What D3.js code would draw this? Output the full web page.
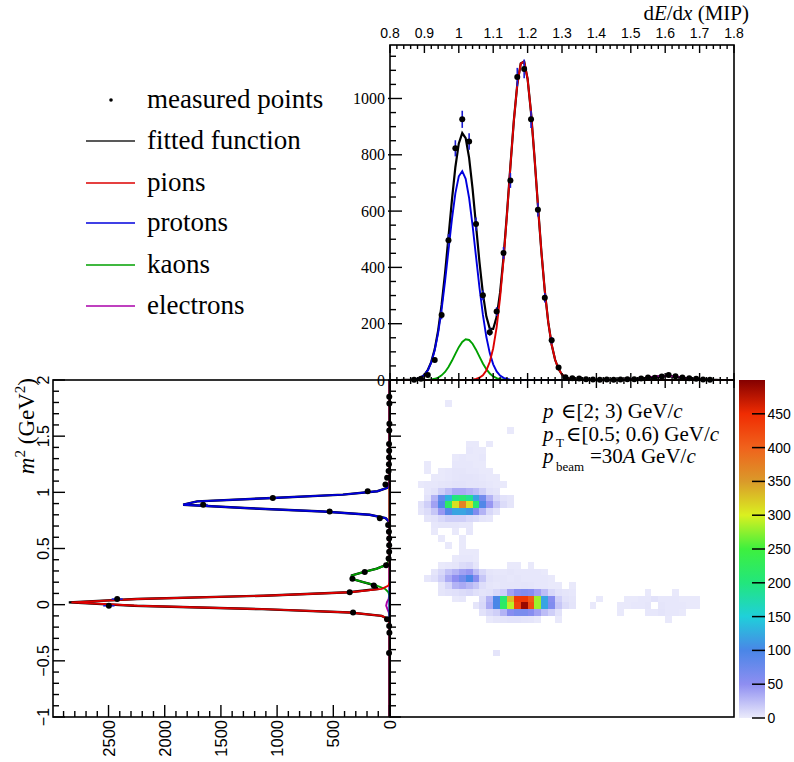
<!DOCTYPE html>
<html><head><meta charset="utf-8">
<script src="https://cdn.jsdelivr.net/npm/d3@7"></script>
<style>
body{margin:0;background:#fff}svg{display:block}
.serif{font-family:"Liberation Serif","DejaVu Serif","Noto Serif",serif}
.sans{font-family:"Liberation Sans","DejaVu Sans",Arial,sans-serif}
</style>
</head><body>
<svg id="c" width="794" height="762"></svg>
<script>
// ---------------- data ----------------
// dE/dx projection (bin centres, counts)
const dedxPointX = [0.87,0.89,0.91,0.93,0.95,0.97,0.99,1.01,1.03,1.05,1.07,1.09,1.11,1.13,1.15,1.17,1.19,1.21,1.23,1.25,1.27,1.29,1.31,1.33,1.35,1.37,1.39,1.41,1.43,1.45,1.47,1.49,1.51,1.53,1.55,1.57,1.59,1.61,1.63,1.65,1.67,1.69,1.71,1.73];
const dedxPointY = [1,4,18,71,231,496,823,926,847,554,301,170,243,451,709,1076,1105,926,605,292,141,44,10,6,5,3,2,1,2,1,2,3,3,5,9,8,12,18,13,9,6,4,2,1];
// m^2 projection (bin centres, counts)
const m2PointX = [-0.43,-0.25,-0.19,-0.13,-0.07,-0.01,0.05,0.11,0.17,0.23,0.29,0.35,0.41,0.47,0.53,0.59,0.65,0.71,0.77,0.83,0.89,0.95,1.01,1.07,1.13,1.19,1.25,1.31,1.37,1.43,1.55,1.61,1.79,1.85];
const m2PointY = [4,1,3,22,324,2497,2423,354,140,330,220,30,8,3,3,3,5,12,86,533,1658,1038,194,36,21,8,5,4,3,4,2,1,1,2];
// fit components: pions, protons, kaons, electrons
const speciesNames = ["pions","protons","kaons","electrons"];
const dedxFitAmp   = [1137, 742, 145, 14];
const dedxFitMean  = [1.186, 1.009, 1.023, 1.60];
const dedxFitSigma = [0.040, 0.040, 0.035, 0.05];
const m2FitAmp   = [2830, 1880, 350, 30];
const m2FitMean  = [0.020, 0.900, 0.245, -0.005];
const m2FitSigma = [0.044, 0.046, 0.050, 0.035];
// 2D histogram rows: [m2 bin centre, first dE/dx bin centre, counts...]
const hist2dRows = [
 [1.79,0.97,[1]],
 [1.55,1.15,[1]],
 [1.43,1.03,[1,1,0,1]],
 [1.37,1.03,[2,1,1]],
 [1.31,0.99,[1,2,1,1,2]],
 [1.25,0.91,[1,0,0,0,2,2,2,1,1]],
 [1.19,0.91,[1,0,1,2,3,3,2,2,1,1]],
 [1.13,0.93,[1,1,2,3,4,4,3,2,1,1]],
 [1.07,0.89,[1,2,2,3,4,5,5,4,4,3,2,1,1]],
 [1.01,0.91,[2,5,15,25,35,35,30,25,15,5,3]],
 [0.95,0.91,[5,30,80,130,200,210,190,120,70,30,10,5,3]],
 [0.89,0.89,[5,15,40,95,220,310,370,310,210,95,45,20,8,3]],
 [0.83,0.89,[3,8,20,45,90,120,120,110,60,30,10,4]],
 [0.77,0.91,[3,5,10,15,15,15,10,8,3,2]],
 [0.71,0.93,[2,3,3,3,2,2]],
 [0.65,0.93,[1,0,0,1,0,2]],
 [0.59,0.95,[1,0,0,1]],
 [0.53,0.97,[1,0,1]],
 [0.47,1.01,[1,1,1]],
 [0.41,0.99,[1,2,2,1]],
 [0.35,0.95,[1,2,3,8,10,3]],
 [0.35,1.15,[1,1,0,1]],
 [0.29,0.93,[3,10,22,30,40,45,25,10,3,2,2,3,2,2,2,2,1]],
 [0.23,0.91,[2,6,15,35,50,70,100,55,20,5,3,3,2,3,2,2,2,2,1]],
 [0.17,0.95,[3,12,30,35,28,20,7,3,2,3,3,3,4,3,2,2,1,1,0,1]],
 [0.11,0.95,[3,5,6,8,10,6,4,5,10,15,40,55,60,55,40,25,10,5,3,2]],
 [0.11,1.55,[1,0,0,0,1]],
 [0.05,0.99,[1,2]],
 [0.05,1.07,[8,30,100,210,330,440,440,410,280,120,55,15,5,3]],
 [0.05,1.41,[1]],
 [0.05,1.49,[1,1,2,2,5,2,2,2,1,1,1]],
 [-0.01,1.05,[3,10,35,100,220,290,430,490,420,280,120,60,20,8,4]],
 [-0.01,1.39,[1]],
 [-0.01,1.47,[1,1,2,2,3,0,3,2,2,2,1,1]],
 [-0.07,1.07,[5,10,15,30,55,65,65,55,40,25,15,5]],
 [-0.07,1.47,[1]],
 [-0.07,1.55,[2,2,4,2,2,1]],
 [-0.13,1.09,[1,3,4,5,5,4,3,1,0,0,1]],
 [-0.13,1.61,[1]],
 [-0.43,1.11,[4]]
];
const dedxBinWidth = 0.02, m2BinWidth = 0.06;
// colour palette
const paletteStops  = [0,50,100,150,200,250,300,350,400,450,500];
const paletteColors = ["#ebebfb","#8e8ef1","#4a86e7","#1fd0da","#22e67c","#3ef03e","#daf020","#da9a2a","#f0621c","#f02c02","#840000"];
const colorbarTicks = [0,50,100,150,200,250,300,350,400,450];
// text
const legendLabels = ["measured points","fitted function","pions","protons","kaons","electrons"];

// ---------------- drawing ----------------
const svg = d3.select("#c");
const speciesColors = ["#dd0000","#0000dd","#00a000","#aa00aa"];
const errColor = "#1a1ad0";

const xE = d3.scaleLinear().domain([0.8,1.8]).range([390,734]);
const yC = d3.scaleLinear().domain([0,1190]).range([380,45]);
const yM = d3.scaleLinear().domain([-1,2]).range([717,380]);
const xL = d3.scaleLinear().domain([0,2994]).range([389.5,53]);
const yZ = d3.scaleLinear().domain([0,500]).range([718,380]);
const zCol = d3.scaleLinear().domain(paletteStops).range(paletteColors).clamp(true);

const gauss = (x,a,m,s)=>a*Math.exp(-0.5*((x-m)/s)*((x-m)/s));

// ---- 2D histogram ----
const gH = svg.append("g").attr("shape-rendering","crispEdges");
hist2dRows.forEach(([m2c, x0c, counts])=>{
  counts.forEach((v,k)=>{
    if(v<=0) return;
    const xc = x0c + k*dedxBinWidth;
    const xa = Math.round(xE(xc-dedxBinWidth/2)), xb = Math.round(xE(xc+dedxBinWidth/2));
    const ya = Math.round(yM(m2c+m2BinWidth/2)), yb = Math.round(yM(m2c-m2BinWidth/2));
    gH.append("rect").attr("x",xa).attr("y",ya).attr("width",xb-xa).attr("height",yb-ya).attr("fill",zCol(v));
  });
});

// ---- colour bar ----
const defs = svg.append("defs");
const grad = defs.append("linearGradient").attr("id","pal").attr("x1",0).attr("y1",1).attr("x2",0).attr("y2",0);
paletteStops.forEach((s,i)=>grad.append("stop").attr("offset",s/500).attr("stop-color",paletteColors[i]));
svg.append("rect").attr("x",739).attr("y",yZ(500)).attr("width",26).attr("height",yZ(0)-yZ(500)).attr("fill","url(#pal)");
const gZ = svg.append("g");
colorbarTicks.forEach(t=>{
  gZ.append("line").attr("x1",752).attr("x2",765).attr("y1",yZ(t)).attr("y2",yZ(t)).attr("stroke","#000").attr("stroke-width",1.5);
  gZ.append("text").attr("class","sans").attr("x",767.5).attr("y",yZ(t)+5).attr("font-size",14).text(t);
});

// ---- top panel: curves ----
const gT = svg.append("g");
const xsT = d3.range(0,101).map(i=>0.8+i*0.01);
const totT = xsT.map(x=>({x, y:d3.sum(dedxFitAmp.map((a,k)=>gauss(x,a,dedxFitMean[k],dedxFitSigma[k])))}));
const lineT = d3.line().x(d=>xE(d.x)).y(d=>yC(d.y));
gT.append("path").attr("d",lineT(totT)).attr("fill","none").attr("stroke","#000").attr("stroke-width",2.2);
[3,2,1,0].forEach(k=>{
  const pts = xsT.map(x=>({x,y:gauss(x,dedxFitAmp[k],dedxFitMean[k],dedxFitSigma[k])}));
  gT.append("path").attr("d",lineT(pts)).attr("fill","none").attr("stroke",speciesColors[k]).attr("stroke-width",1.9);
});
dedxPointX.forEach((x,i)=>{
  const v = dedxPointY[i], e = Math.sqrt(v);
  gT.append("line").attr("x1",xE(x)).attr("x2",xE(x)).attr("y1",yC(v+e)).attr("y2",yC(Math.max(0,v-e))).attr("stroke",errColor).attr("stroke-width",1.6);
});
dedxPointX.forEach((x,i)=>{
  gT.append("circle").attr("cx",xE(x)).attr("cy",yC(dedxPointY[i])).attr("r",3).attr("fill","#000");
});

// ---- left panel: curves ----
const gL = svg.append("g");
const msL = d3.range(0,101).map(i=>-1+i*0.03);
const lineL = d3.line().x(d=>xL(d.v)).y(d=>yM(d.m));
const totL = msL.map(m=>({m, v:d3.sum(m2FitAmp.map((a,k)=>gauss(m,a,m2FitMean[k],m2FitSigma[k])))}));
[3].forEach(k=>{
  const pts = msL.map(m=>({m,v:gauss(m,m2FitAmp[k],m2FitMean[k],m2FitSigma[k])}));
  gL.append("path").attr("d",lineL(pts)).attr("fill","none").attr("stroke",speciesColors[k]).attr("stroke-width",1.9);
});
gL.append("path").attr("d",lineL(totL)).attr("fill","none").attr("stroke","#000").attr("stroke-width",2.4);
[2,1,0].forEach(k=>{
  const pts = msL.map(m=>({m,v:gauss(m,m2FitAmp[k],m2FitMean[k],m2FitSigma[k])}));
  gL.append("path").attr("d",lineL(pts)).attr("fill","none").attr("stroke",speciesColors[k]).attr("stroke-width",1.9);
});
m2PointX.forEach((m,i)=>{
  const v = m2PointY[i], e = Math.sqrt(v);
  gL.append("line").attr("y1",yM(m)).attr("y2",yM(m)).attr("x1",xL(v+e)).attr("x2",xL(Math.max(0,v-e))).attr("stroke",errColor).attr("stroke-width",1.6);
});
m2PointX.forEach((m,i)=>{
  gL.append("circle").attr("cx",xL(m2PointY[i])).attr("cy",yM(m)).attr("r",3).attr("fill","#000");
});

// ---- frames ----
const frame = (x0,y0,x1,y1)=>svg.append("rect").attr("x",x0).attr("y",y0).attr("width",x1-x0).attr("height",y1-y0).attr("fill","none").attr("stroke","#000").attr("stroke-width",1.6);
frame(390,45,734,380);
frame(53,380,390,717);
frame(390,380,734,717);

// ---- ticks ----
const gA = svg.append("g").attr("stroke","#000").attr("stroke-width",1.4);
const tl = (x1,y1,x2,y2)=>gA.append("line").attr("x1",x1).attr("y1",y1).attr("x2",x2).attr("y2",y2);
const dedxMajor = xE.ticks(10), dedxMinor = xE.ticks(50);
dedxMinor.forEach(v=>{ const x=xE(v); const maj = dedxMajor.some(t=>Math.abs(t-v)<1e-9);
  tl(x,45,x,45+(maj?8:4));
  tl(x,380-(maj?7:3),x,380+(maj?8:4));
});
const cMajor = d3.range(0,1190,200), cMinor = d3.range(0,1190,50);
cMinor.forEach(v=>{ const y=yC(v); const maj = v%200===0;
  tl(maj?388:390,y,390+(maj?12:6),y);
});
const mMajor = yM.ticks(6), mMinor = d3.range(-10,21).map(i=>i/10);
mMinor.forEach(v=>{ const y=yM(v); const maj = Math.abs(v*2-Math.round(v*2))<1e-9;
  tl(53,y,53+(maj?12:6),y);
  tl(390,y,390+(maj?11:6),y);
});
const lMajor = d3.range(0,2994,500), lMinor = d3.range(0,2994,100);
lMinor.forEach(v=>{ const x=xL(v); const maj=v%500===0;
  tl(x,717,x,717-(maj?12:6));
});

// ---- tick labels ----
const gTx = svg.append("g");
dedxMajor.forEach(v=>gTx.append("text").attr("class","sans").attr("x",xE(v)).attr("y",37.5).attr("text-anchor","middle")
  .attr("font-size",14).text(d3.format("")(+v.toFixed(1))));
cMajor.forEach(v=>gTx.append("text").attr("class","serif").attr("x",385).attr("y",yC(v)+5.5).attr("text-anchor","end")
  .attr("font-size",16).text(v));
const fmtM = d3.format("");
mMajor.forEach(v=>gTx.append("text").attr("class","sans").attr("transform",`translate(48.5,${yM(v)}) rotate(-90)`).attr("text-anchor","middle")
  .attr("font-size",16).text(fmtM(v)));
lMajor.forEach(v=>gTx.append("text").attr("class","sans").attr("transform",`translate(${xL(v)+6},720) rotate(-90)`).attr("text-anchor","end")
  .attr("font-size",16.5).text(v));

// ---- axis titles ----
const tt = svg.append("text").attr("class","serif").attr("x",749).attr("y",20).attr("text-anchor","end").attr("font-size",21);
tt.append("tspan").text("d");
tt.append("tspan").attr("font-style","italic").text("E");
tt.append("tspan").text("/d");
tt.append("tspan").attr("font-style","italic").text("x");
tt.append("tspan").text(" (MIP)");

const ty = svg.append("text").attr("class","serif").attr("transform","translate(34,378) rotate(-90)").attr("text-anchor","end").attr("font-size",23);
ty.append("tspan").attr("font-style","italic").text("m");
ty.append("tspan").attr("font-size",15).attr("dy",-9).text("2");
ty.append("tspan").attr("dy",9).text(" (GeV");
ty.append("tspan").attr("font-size",15).attr("dy",-9).text("2");
ty.append("tspan").attr("dy",9).text(")");

// ---- legend ----
const gLeg = svg.append("g");
const legY = [100,141,183,223,265,306];
legendLabels.forEach((lab,i)=>{
  const y = legY[i];
  if(i===0) gLeg.append("circle").attr("cx",111).attr("cy",y).attr("r",1.8).attr("fill","#000");
  else gLeg.append("line").attr("x1",86).attr("x2",135).attr("y1",y).attr("y2",y)
        .attr("stroke", i===1 ? "#222" : speciesColors[i-2]).attr("stroke-width",1.3);
  gLeg.append("text").attr("class","serif").attr("x",147).attr("y",y+8.3).attr("font-size",27).text(lab);
});

// ---- text box (one text element per line) ----
const gB = svg.append("g").attr("class","serif").attr("font-size",21);
const l1 = gB.append("text").attr("x",543).attr("y",418);
l1.append("tspan").attr("font-style","italic").text("p");
l1.append("tspan").attr("x",561).text("\u2208[2; 3) GeV/");
l1.append("tspan").attr("font-style","italic").text("c");
const l2 = gB.append("text").attr("x",543).attr("y",441);
l2.append("tspan").attr("font-style","italic").text("p");
l2.append("tspan").attr("x",556).attr("dy",6).attr("font-size",13).text("T");
l2.append("tspan").attr("x",566).attr("dy",-6).text("\u2208[0.5; 0.6) GeV/");
l2.append("tspan").attr("font-style","italic").text("c");
const l3 = gB.append("text").attr("x",543).attr("y",463);
l3.append("tspan").attr("font-style","italic").text("p");
l3.append("tspan").attr("x",556).attr("dy",8).attr("font-size",13).text("beam");
l3.append("tspan").attr("x",590).attr("dy",-8).text("=30");
l3.append("tspan").attr("font-style","italic").text("A");
l3.append("tspan").text(" GeV/");
l3.append("tspan").attr("font-style","italic").text("c");
</script>
</body></html>
